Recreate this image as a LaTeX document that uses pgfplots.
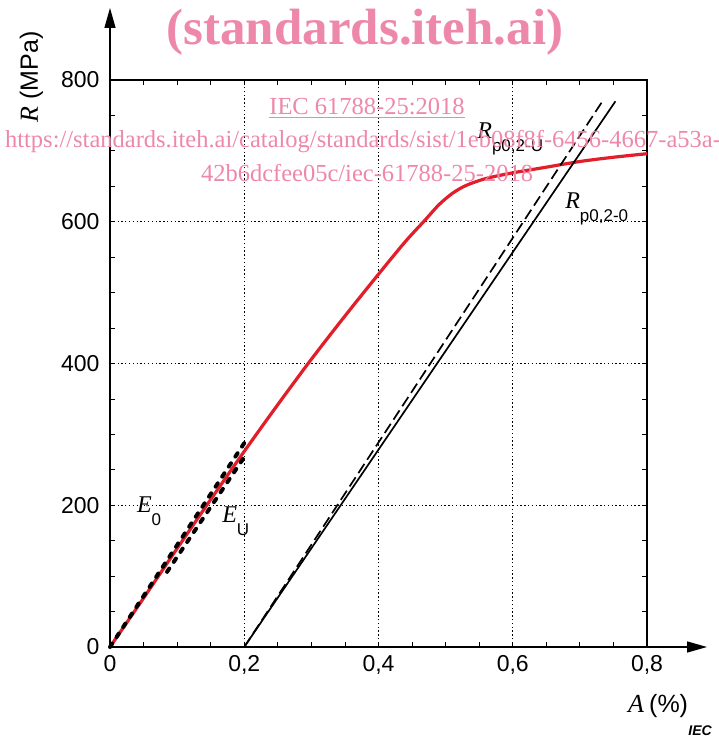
\documentclass[border=0pt]{standalone}
\usepackage{fontspec}
\setmainfont{Liberation Serif}
\setsansfont{Liberation Sans}
\usepackage{pgfplots}
\pgfplotsset{compat=1.18}
\usetikzlibrary{arrows.meta}
\definecolor{curvered}{RGB}{226,30,42}
\definecolor{wm}{RGB}{238,136,170}
% italic serif symbol with lowered sans subscript
\newcommand{\lab}[2]{{\fontsize{24}{24}\selectfont\textit{#1}}\raisebox{-13pt}{\sffamily\fontsize{17}{17}\selectfont #2}}

\begin{document}
\begin{tikzpicture}[x=1pt,y=1pt]
\useasboundingbox (-110,-91) rectangle (608,647);
\begin{axis}[
  at={(0,0)}, anchor=origin,
  width=537pt, height=567pt, scale only axis,
  xmin=0, xmax=0.8, ymin=0, ymax=800,
  clip=false,
  xtick={0,0.2,0.4,0.6,0.8}, xticklabels={0,{0,2},{0,4},{0,6},{0,8}},
  ytick={0,200,400,600,800}, yticklabels={0,200,400,600,800},
  minor x tick num=3, minor y tick num=3,
  tick align=inside, major tick length=5pt, minor tick length=5pt,
  tick style={black, line width=0.8pt},
  grid=major, major grid style={black, line width=1.1pt, dash pattern=on 1.3pt off 2.5pt},
  axis line style={black, line width=1.4pt},
  ticklabel style={font=\sffamily\fontsize{23}{23}\selectfont},
  xticklabel style={yshift=-5pt},
  yticklabel style={xshift=-7pt},
]
% measured curve
\addplot[curvered, line width=3.2pt, smooth] coordinates {
  (0,0) (0.05,69) (0.1,139) (0.15,208) (0.2,276) (0.25,342) (0.3,406)
  (0.35,467) (0.4,526) (0.44,572) (0.47,603) (0.49,624) (0.51,640)
  (0.53,651) (0.56,661) (0.6,669) (0.65,677) (0.7,685) (0.75,691) (0.8,696)};
% E0 and EU
\addplot[black, line width=4pt, line cap=round, dash pattern=on 4pt off 8pt] coordinates {(0,0) (0.203,292)};
\addplot[black, line width=4pt, line cap=round, dash pattern=on 4pt off 8pt] coordinates {(0.085,106) (0.2,268)};
% offset lines
\addplot[black, line width=1.7pt] coordinates {(0.2,0) (0.753,770)};
\addplot[black, line width=1.7pt, dash pattern=on 11pt off 5pt] coordinates {(0.2,0) (0.735,772)};

\node[anchor=base west, inner sep=0pt] at (axis cs:0.040,190) {\lab{E}{0}};
\node[anchor=base west, inner sep=0pt] at (axis cs:0.167,175) {\lab{E}{U}};
\node[anchor=base west, inner sep=0pt] at (axis cs:0.547,718) {\lab{R}{p0,2-U}};
\node[anchor=base west, inner sep=0pt] at (axis cs:0.678,619) {\lab{R}{p0,2-0}};
\end{axis}

% axis arrows
\draw[line width=1.4pt, -{Triangle[length=20pt,width=11pt]}] (0,560) -- (0,639);
\draw[line width=1.4pt, -{Triangle[length=20pt,width=11pt]}] (530,0) -- (597,0);

% axis titles
\node[rotate=90, anchor=base west, inner sep=0pt] at (-72,524)
  {{\fontsize{26}{26}\selectfont\textit{R}}\ \ \ {\sffamily\fontsize{25}{25}\selectfont(MPa)}};
\node[anchor=base west, inner sep=0pt] at (518,-65)
  {{\fontsize{26}{26}\selectfont\textit{A}}\ \ {\sffamily\fontsize{25}{25}\selectfont(\%)}};
\node[anchor=base east, inner sep=0pt] at (602,-88)
  {\sffamily\bfseries\itshape\fontsize{14}{14}\selectfont IEC};

% watermark
\node[anchor=base, inner sep=0pt, text=wm] at (255,602)
  {\bfseries\fontsize{51}{51}\selectfont (standards.iteh.ai)};
\node[anchor=base, inner sep=0pt, text=wm] at (257,532)
  {\fontsize{24.5}{24.5}\selectfont\underline{IEC 61788-25:2018}};
\node[anchor=base, inner sep=0pt, text=wm] at (253,499)
  {\fontsize{24.5}{24.5}\selectfont https://standards.iteh.ai/catalog/standards/sist/1eb08f8f-6456-4667-a53a-};
\node[anchor=base, inner sep=0pt, text=wm] at (257,465)
  {\fontsize{24.5}{24.5}\selectfont 42b6dcfee05c/iec-61788-25-2018};
\end{tikzpicture}
\end{document}
